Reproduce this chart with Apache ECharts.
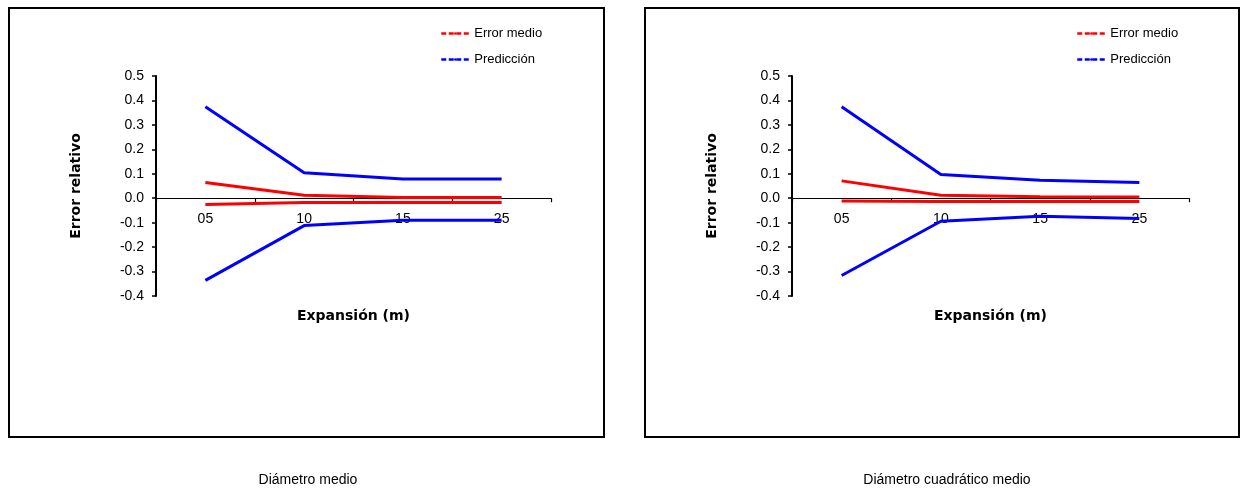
<!DOCTYPE html>
<html>
<head>
<meta charset="utf-8">
<script src="https://cdn.jsdelivr.net/npm/echarts@6/dist/echarts.min.js"></script>
<style>
  html, body { margin: 0; padding: 0; background: #fff; }
  #main { width: 1245px; height: 488px; }
</style>
</head>
<body>
<div id="main"></div>
<script>
// categorias del eje x
var categorias = ['05', '10', '15', '25'];
var ticksY = [-0.4, 0.5, 0.1];

// Diámetro medio
var errorSupIzq = [0.064, 0.012, 0.003, 0.003];
var errorInfIzq = [-0.026, -0.018, -0.018, -0.018];
var predSupIzq = [0.374, 0.104, 0.079, 0.079];
var predInfIzq = [-0.336, -0.112, -0.090, -0.090];

// Diámetro cuadrático medio
var errorSupDer = [0.071, 0.012, 0.006, 0.005];
var errorInfDer = [-0.011, -0.013, -0.013, -0.013];
var predSupDer = [0.374, 0.097, 0.074, 0.064];
var predInfDer = [-0.316, -0.094, -0.074, -0.083];

var myChart = echarts.init(document.getElementById('main'));

function ejeX(idx) {
  return {
    type: 'category',
    gridIndex: idx,
    data: categorias,
    boundaryGap: true,
    axisLine: { onZero: true, lineStyle: { color: '#000', width: 1.2 } },
    axisTick: { show: true, length: 4, lineStyle: { color: '#000', width: 1.2 } },
    // las etiquetas van justo debajo de la linea del cero
    axisLabel: { color: '#000', fontSize: 14, fontFamily: 'Liberation Sans', margin: -84 },
    name: 'Expansión (m)',
    nameLocation: 'middle',
    nameGap: 13,
    nameMoveOverlap: false,
    nameTextStyle: { color: '#000', fontSize: 14, fontWeight: 'bold', fontFamily: 'DejaVu Sans' },
    splitLine: { show: false }
  };
}

function ejeY(idx) {
  return {
    type: 'value',
    gridIndex: idx,
    min: ticksY[0],
    max: ticksY[1],
    interval: ticksY[2],
    axisLine: { show: true, onZero: false, lineStyle: { color: '#000', width: 2 } },
    axisTick: { show: true, length: 4, lineStyle: { color: '#000', width: 1.5 } },
    axisLabel: {
      color: '#000', fontSize: 14, fontFamily: 'Liberation Sans', margin: 12,
      formatter: function (v) { return v.toFixed(1); }
    },
    splitLine: { show: false },
    name: 'Error relativo',
    nameLocation: 'middle',
    nameGap: 73,
    nameRotate: 90,
    nameMoveOverlap: false,
    nameTextStyle: { color: '#000', fontSize: 14, fontWeight: 'bold', fontFamily: 'DejaVu Sans' }
  };
}

function serie(nombre, color, datos, idx) {
  return {
    name: nombre,
    type: 'line',
    xAxisIndex: idx,
    yAxisIndex: idx,
    data: datos,
    symbol: 'none',
    lineStyle: { color: color, width: 3 },
    itemStyle: { color: color },
    silent: true
  };
}

function leyenda(left) {
  return {
    left: left,
    top: 22,
    orient: 'vertical',
    itemWidth: 28,
    itemHeight: 3,
    itemGap: 13,
    data: ['Error medio', 'Predicción'],
    lineStyle: { type: [5, 2.5], width: 2.5 },
    textStyle: { color: '#000', fontSize: 13, fontFamily: 'Liberation Sans' },
    selectedMode: false
  };
}

var option = {
  animation: false,
  title: [
    { text: 'Diámetro medio', left: 303, top: 468, textAlign: 'center',
      textStyle: { color: '#000', fontSize: 14, fontWeight: 'normal', fontFamily: 'Liberation Sans' } },
    { text: 'Diámetro cuadrático medio', left: 942, top: 468, textAlign: 'center',
      textStyle: { color: '#000', fontSize: 14, fontWeight: 'normal', fontFamily: 'Liberation Sans' } }
  ],
  legend: [leyenda(435), leyenda(1071)],
  grid: [
    { left: 156, top: 76, width: 395, height: 220 },
    { left: 792, top: 76, width: 397, height: 220 }
  ],
  xAxis: [ejeX(0), ejeX(1)],
  yAxis: [ejeY(0), ejeY(1)],
  graphic: [
    { type: 'rect', shape: { x: 9, y: 8, width: 595, height: 429 },
      style: { fill: 'none', stroke: '#000', lineWidth: 2 }, z: -1 },
    { type: 'rect', shape: { x: 645, y: 8, width: 594, height: 429 },
      style: { fill: 'none', stroke: '#000', lineWidth: 2 }, z: -1 }
  ],
  series: [
    serie('Error medio', '#ff0000', errorSupIzq, 0),
    serie('Error medio', '#ff0000', errorInfIzq, 0),
    serie('Predicción', '#0000ff', predSupIzq, 0),
    serie('Predicción', '#0000ff', predInfIzq, 0),
    serie('Error medio', '#ff0000', errorSupDer, 1),
    serie('Error medio', '#ff0000', errorInfDer, 1),
    serie('Predicción', '#0000ff', predSupDer, 1),
    serie('Predicción', '#0000ff', predInfDer, 1)
  ]
};

myChart.setOption(option);
</script>
</body>
</html>
